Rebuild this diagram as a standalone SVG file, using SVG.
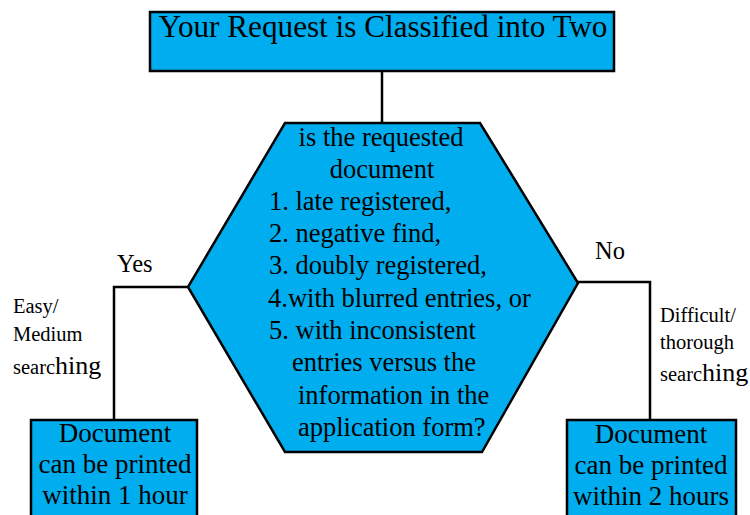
<svg xmlns="http://www.w3.org/2000/svg" width="750" height="515" viewBox="0 0 750 515">
<style>
.box{fill:#00AEEF;stroke:#000;stroke-width:2.5}
.ln{fill:none;stroke:#000;stroke-width:2.5}
text{font-family:"Liberation Serif","DejaVu Serif",serif;fill:#000}
.t{font-size:31.2px}
.h{font-size:26.5px}
.b{font-size:27px;text-anchor:middle}
.lbl{font-size:24.5px}
.s{font-size:20.5px}
.g{font-size:26px}
</style>
<rect width="750" height="515" fill="#fff"/>
<g id="connectors">
<path class="ln" d="M382,71 V123"/>
<path class="ln" d="M188,287 H114 V420"/>
<path class="ln" d="M578,282 H650 V419"/>
</g>
<g id="title">
<rect class="box" x="150" y="12" width="464" height="59"/>
<text class="t" x="383" y="37" text-anchor="middle">Your Request is Classified into Two</text>
</g>
<g id="decision">
<polygon class="box" points="285,123 480,123 578,283 482,452 285,452 188,287"/>
<text class="h" x="381" y="146" text-anchor="middle">is the requested</text>
<text class="h" x="382" y="178" text-anchor="middle">document</text>
<text class="h" x="269" y="210">1. late registered,</text>
<text class="h" x="269" y="242">2. negative find,</text>
<text class="h" x="269" y="274">3. doubly registered,</text>
<text class="h" x="268" y="307">4.with blurred entries, or</text>
<text class="h" x="269" y="339">5. with inconsistent</text>
<text class="h" x="292" y="371">entries versus the</text>
<text class="h" x="298" y="404">information in the</text>
<text class="h" x="298" y="436">application form?</text>
</g>
<g id="yes-label">
<text class="lbl" x="117" y="272">Yes</text>
<text class="s" x="13" y="313">Easy/</text>
<text class="s" x="13" y="341">Medium</text>
<text x="13" y="374"><tspan class="s">searc</tspan><tspan class="g">hing</tspan></text>
</g>
<g id="no-label">
<text class="lbl" x="595" y="259">No</text>
<text class="s" x="660" y="322">Difficult/</text>
<text class="s" x="660" y="349">thorough</text>
<text x="660" y="381"><tspan class="s">searc</tspan><tspan class="g">hing</tspan></text>
</g>
<g id="result-1hour">
<rect class="box" x="31" y="420" width="166" height="100"/>
<text class="b" x="115" y="442">Document</text>
<text class="b" x="115" y="473">can be printed</text>
<text class="b" x="115" y="504">within 1 hour</text>
</g>
<g id="result-2hours">
<rect class="box" x="567" y="420" width="169" height="100"/>
<text class="b" x="651" y="443">Document</text>
<text class="b" x="651" y="474">can be printed</text>
<text class="b" x="651" y="505">within 2 hours</text>
</g>
</svg>
